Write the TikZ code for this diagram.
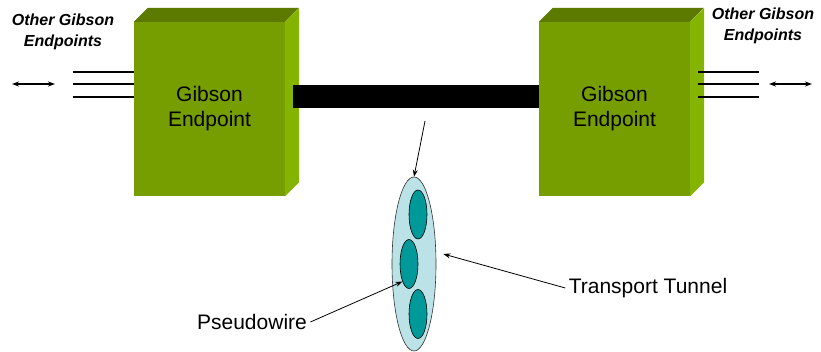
\documentclass[tikz,border=0pt]{standalone}
\usepackage{fontspec}
\setmainfont{Liberation Sans}
\usepackage{tikz}
\usetikzlibrary{arrows.meta,positioning,shapes.geometric,calc}
\definecolor{gbfront}{RGB}{118,158,0}
\definecolor{gbtop}{RGB}{92,122,0}
\definecolor{gbside}{RGB}{132,180,0}
\definecolor{tunfill}{RGB}{187,226,230}
\definecolor{pwfill}{RGB}{0,153,153}

\begin{document}
\begin{tikzpicture}[
  x=1pt, y=-1pt,
  font=\fontsize{21}{25}\selectfont,
  endpt/.style={rectangle, fill=gbfront, minimum width=151pt, minimum height=174pt, align=center, inner sep=0pt},
  other/.style={font=\fontsize{16}{20.5}\selectfont\bfseries\itshape, align=center, inner sep=0pt},
  trunk/.style={line width=2pt},
  tunnel/.style={ellipse, draw=black!80, fill=tunfill, minimum width=44pt, minimum height=174pt, inner sep=0pt, line width=0.6pt},
  pw/.style={ellipse, draw=black, fill=pwfill, minimum width=18pt, minimum height=49pt, inner sep=0pt, line width=0.6pt},
  >={Stealth[length=7pt,width=5pt]},
  arrline/.style={->, line width=0.8pt},
]
\useasboundingbox (0,0) rectangle (821,352);

% the two endpoints, front faces
\node[endpt] (gepL) at (209.5,109) {Gibson\\Endpoint};
\node[endpt] (gepR) at (614.5,109) {Gibson\\Endpoint};

% top and side faces
\foreach \b in {gepL,gepR} {
  \fill[gbtop] (\b.north west) -- ++(14,-14) -- ++(151,0) -- (\b.north east) -- cycle;
  \fill[gbside] (\b.north east) -- ++(14,-14) -- ($(\b.south east)+(14,-14)$) -- (\b.south east) -- cycle;
}

% the link between them
\draw[line width=23pt] ([xshift=8pt,yshift=12.5pt]gepL.east) -- ([yshift=12.5pt]gepR.west);

% links to the other endpoints
\foreach \dy in {37,25,12} {
  \draw[trunk] ([xshift=-61pt,yshift=\dy pt]gepL.west) -- ([yshift=\dy pt]gepL.west);
  \draw[trunk] ([xshift=8pt,yshift=\dy pt]gepR.east) -- ([xshift=69pt,yshift=\dy pt]gepR.east);
}
\coordinate (lfarA) at (12,84);
\coordinate (lfarB) at (55,84);
\coordinate (rfarA) at (769,84);
\coordinate (rfarB) at (812,84);
\draw[<->, line width=1.2pt] (lfarA) -- (lfarB);
\draw[<->, line width=1.2pt] (rfarA) -- (rfarB);

\node[other] (othL) at (63,32) {Other Gibson\\Endpoints};
\node[other] (othR) at (763,26) {Other Gibson\\Endpoints};

% tunnel with pseudowires
\node[tunnel] (tun) at (414,264) {};
\node[pw] (pw1) at (418,214.5) {};
\node[pw] (pw2) at (409,264) {};
\node[pw] (pw3) at (418,314) {};

\node (tunlbl) at (648,288) {Transport Tunnel};
\node (pwlbl) at (252,322) {Pseudowire};
\coordinate (tunsrc) at (425,121);

\draw[arrline] (tunsrc) -- (tun.north);
\draw[arrline] (tunlbl.west) -- ([xshift=7pt,yshift=10pt]tun.east);
\draw[arrline] (pwlbl.east) -- (pw2.south west);
\end{tikzpicture}
\end{document}
